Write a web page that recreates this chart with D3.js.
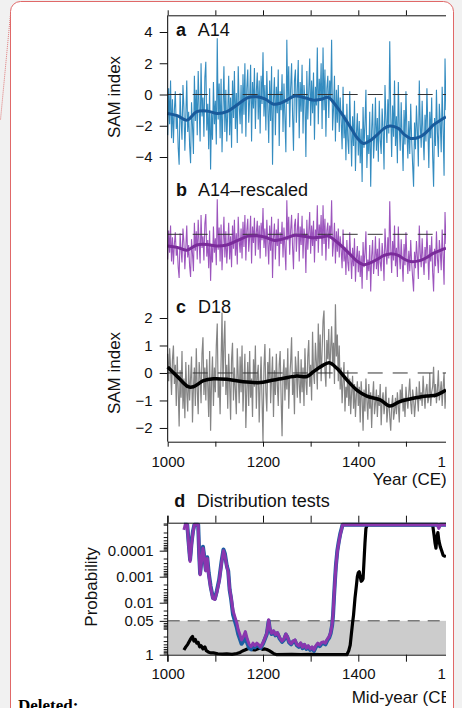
<!DOCTYPE html>
<html>
<head>
<meta charset="utf-8">
<script src="https://cdn.jsdelivr.net/npm/d3@7"></script>
<style>
  body { margin: 0; background: #f1f1f1; }
  svg { display: block; font-family: "Liberation Sans", Arial, sans-serif; }
</style>
</head>
<body>
<div id="fig"></div>
<script>
// ---- data ----
const rawYears = d3.range(1000, 1585, 2);

// A14 SAM index (panel a, also drawn rescaled in panel b)
const a14 = [
  -2.6, 0.4, -1.9, 0.9, -2.8, -0.3, -3.1, -1.0, 0.2, -2.2, -1.3, -3.4, -4.5, 0.1, -1.6, -2.9, 0.6, -0.8, -3.6, -1.4,
  0.9, -2.4, -1.1, -3.3, -4.4, -0.5, -2.0, -3.8, 1.2, -1.7, 0.3, -2.6, 1.5, -0.9, -3.0, 2.0, -1.4, -0.2, -2.7, 1.1,
  2.1, -2.3, -0.6, -3.5, 0.4, -4.8, -1.2, -2.9, 0.8, -1.9, -0.4, -3.2, 3.6, -1.6, 0.7, -2.8, 1.0, -3.7, -0.9, 1.8,
  -2.4, 0.3, -3.0, -1.1, 1.2, -2.6, -0.2, -3.4, 0.9, -1.5, 1.5, -2.2, 0.1, -3.1, 1.8, -0.7, -1.9, 0.6, -2.5, 1.3,
  -1.3, 2.0, -2.7, 0.4, 1.6, -1.8, -0.3, 1.9, -3.0, 0.8, -0.9, 1.7, -2.2, 0.2, 1.4, -1.6, 0.9, -2.5, 1.2, -0.6,
  2.7, -1.4, 0.6, -2.3, 1.5, -0.8, -3.1, 0.9, -1.7, 1.8, -4.5, -0.3, 1.1, -2.6, 0.5, -1.2, 1.6, -3.3, 0.2, -1.0,
  1.3, -2.4, 0.7, -1.5, -3.7, 3.5, -0.6, 1.8, -2.1, 0.4, 2.0, -1.3, -3.6, 0.9, 1.6, -1.8, 0.3, 2.2, -2.8, 0.8,
  -1.1, 1.9, -2.5, 0.6, -0.4, -4.0, 1.5, -1.6, 0.2, 2.3, -2.0, 0.9, -1.2, 1.4, -2.9, 0.5, -0.7, 3.0, -1.9, 1.0,
  -0.3, 2.0, -2.2, 3.0, -1.0, 1.6, -2.7, 0.4, 1.2, -1.5, 0.9, -0.4, 3.5, -2.3, -0.9, 1.2, -3.0, 0.3, -1.8, 0.6,
  -2.4, -0.2, -1.6, -3.5, 0.5, -2.8, -1.3, -4.2, -0.6, -2.9, -3.8, 0.2, -2.2, -4.6, -1.4, -3.3, -0.4, -4.9, -2.5, -1.2,
  -3.9, -1.7, -4.4, -2.2, -5.6, -0.8, -3.4, -1.9, 0.3, -4.7, -2.6, -3.8, -1.1, -5.9, -2.3, -0.6, -4.1, -2.8, -0.2, -3.6,
  -1.5, -4.3, -0.4, -2.9, -3.8, -0.9, -2.2, -4.8, 0.6, -1.6, -3.1, -0.3, -2.5, 3.4, -1.2, -4.0, -0.7, -2.7, 0.9, -3.3,
  -1.4, -4.4, 0.8, -2.1, -3.6, -0.5, -2.8, -4.9, -1.0, -3.2, 0.2, -2.4, -4.1, -1.7, -3.8, -0.6, -2.9, -4.5, -5.9, -1.8,
  -3.5, -0.7, -2.3, -4.6, 0.9, -1.9, -3.4, -0.4, -2.6, -4.2, -1.3, -3.0, 0.4, -2.2, -4.7, -1.1, -2.8, -0.2, -3.9, -5.9,
  -1.5, -3.3, 0.3, -2.4, -4.0, -0.6, -1.8, -3.7, 0.5, -2.2, -5.2, 2.3, -1.0
];

// D18 SAM index (panel c)
const d18 = [
  0.7, -0.3, 0.9, 0.2, -0.8, 0.5, 1.0, -0.4, 0.3, -1.2, 0.6, -0.6, -1.95, 0.1, -0.9, 0.8, -1.3, -0.2, -1.65, 0.4,
  -0.7, -1.4, 0.3, -1.0, -0.2, 0.6, -1.8, -0.5, 0.2, -1.2, 0.9, -0.6, -1.5, 0.4, -0.1, -1.1, 0.7, 1.3, -0.8, 0.2,
  -1.0, 0.5, -0.4, -1.6, 0.8, -2.1, -0.3, 0.6, -1.2, 0.2, -0.7, 1.0, 1.8, -0.9, -0.2, -1.5, 0.4, 2.2, -0.5, 1.1,
  1.9, -0.8, 0.3, -1.3, 0.7, -0.4, -1.7, 0.5, 1.1, -1.0, 0.2, -0.6, -1.5, 0.9, -0.1, -1.1, 0.6, -0.7, 1.0, -1.4,
  -0.3, 0.7, -2.0, -0.6, 0.4, -1.2, 0.8, -0.9, -0.2, -1.6, 0.5, -0.5, 1.0, -1.3, -0.1, 0.3, -1.8, -0.4, 0.6, -1.0,
  -2.5, 0.2, 1.05, -0.7, -1.4, 0.4, -0.3, 0.9, -1.1, -0.2, 0.6, -1.6, 0.1, -0.8, 0.7, -0.4, -1.2, 0.3, 0.8, -0.9,
  -2.3, -0.1, 0.5, -1.0, 0.2, -0.6, 0.9, -1.3, -0.2, 0.4, 1.3, -0.8, -0.1, -1.5, 0.6, 0.1, -0.9, 0.8, -0.4, -1.1,
  0.5, -0.7, 0.2, -1.2, 0.9, -0.3, -0.8, 0.6, 1.2, -0.5, 0.3, -1.0, 1.5, 0.0, -0.4, 1.1, 0.4, -0.6, 1.8, 0.2,
  1.4, -0.3, 0.8, 1.9, 2.27, 0.1, -0.5, 1.2, 0.5, 1.6, -0.2, 0.9, 1.7, 0.3, 1.1, -0.4, 2.5, 0.6, 1.4, -0.3,
  1.0, -0.6, 0.2, -1.1, -0.3, 0.4, -1.4, -0.5, -0.9, 0.1, -1.2, -0.2, -1.5, -0.7, -0.1, -1.3, -0.4, -1.6, -0.8, -0.3,
  -1.2, -0.5, -1.8, -0.3, -0.9, -2.1, -0.6, -1.4, -0.2, -1.0, -1.7, -0.4, -1.3, -0.7, -2.0, -0.9, -0.3, -1.5, -1.1, -0.6,
  -1.6, -0.8, -1.2, -0.4, -1.9, -1.0, -0.7, -1.5, -1.1, -0.5, -1.8, -1.3, -0.9, -1.6, -2.1, -1.2, -0.8, -1.7, -1.4, -0.9,
  -1.5, -0.7, -1.2, -1.8, -0.6, -1.1, -0.4, -1.4, -0.9, -1.6, -0.5, -1.0, -1.3, -0.7, -0.2, -1.1, -1.5, -0.6, -0.9, -1.6,
  -1.1, -0.5, -0.9, -1.4, -0.3, -1.0, -0.7, -1.2, -0.1, -0.8, -1.3, -0.6, -0.4, -1.1, -0.9, 0.0, -1.2, -0.7, -0.5, 0.23,
  -0.9, -0.4, -1.1, -0.6, 0.1, -1.0, -0.7, -0.3, -1.2, -0.5, 0.0, -1.3, -0.6
];

// smoothed curves
const smoothYearsA = [1000,1020,1040,1061,1082,1103,1124,1145,1169,1187,1205,1222,1237,1250,1267,1292,1306,1322,1337,1355,1369,1383,1397,1411,1425,1439,1453,1466,1484,1496,1510,1529,1545,1557,1570,1584];
const smoothA = [-1.21,-1.35,-1.64,-1.1,-1.05,-1.21,-1.1,-0.68,-0.19,-0.15,-0.3,-0.62,-0.55,-0.36,-0.1,-0.25,-0.36,-0.3,-0.19,-0.79,-1.4,-2.07,-2.75,-3.13,-2.95,-2.6,-2.2,-2.02,-2.17,-2.55,-2.81,-2.71,-2.35,-1.96,-1.7,-1.43];
const smoothYearsC = [1000,1022,1043,1054,1075,1096,1124,1159,1194,1215,1243,1271,1292,1306,1323,1339,1355,1376,1397,1418,1446,1466,1487,1515,1544,1564,1584];
const smoothC = [0.22,-0.16,-0.5,-0.5,-0.28,-0.21,-0.23,-0.32,-0.35,-0.28,-0.19,-0.11,-0.13,0.05,0.25,0.37,0.17,-0.25,-0.62,-0.84,-0.98,-1.2,-1.04,-0.92,-0.84,-0.8,-0.62];

// panel d: distribution test probabilities (mid-year of window)
const probYears = [1034,1037,1041,1044,1047,1050,1053,1056,1064,1066,1068,1071,1074,1077,1080,1083,1086,1090,1095,1099,
  1103,1108,1113,1117,1120,1124,1127,1130,1133,1137,1141,1145,1148,1152,1155,1159,1163,1167,1171,1175,
  1179,1183,1187,1191,1195,1200,1204,1208,1212,1214,1218,1222,1226,1230,1235,1240,1244,1248,1251,1255,
  1259,1263,1267,1271,1275,1279,1283,1287,1291,1295,1299,1303,1307,1311,1315,1319,1323,1327,1331,1335,
  1339,1342,1345,1347,1349,1351,1353,1356,1359,1362,1365,1367,1566,1569,1572,1584];
const probA14 = [1e-5,1e-5,1e-5,5e-5,2.2e-4,5e-5,1.8e-5,1e-5,1e-5,1.3e-4,
  7.5e-4,2.2e-4,7e-5,1.8e-4,5.5e-4,1.8e-4,7e-4,2.3e-3,6.5e-3,7e-3,
  3.6e-3,1.3e-3,2.6e-4,9e-5,1.3e-4,3.8e-4,6e-4,3.2e-3,7e-3,0.028,
  0.05,0.09,0.16,0.26,0.38,0.3,0.2,0.36,0.55,0.62,
  0.46,0.52,0.42,0.46,0.55,0.38,0.25,0.16,0.05,0.1,
  0.16,0.13,0.18,0.15,0.24,0.32,0.27,0.17,0.21,0.34,
  0.4,0.32,0.29,0.43,0.5,0.38,0.56,0.43,0.6,0.5,
  0.65,0.55,0.72,0.5,0.4,0.47,0.38,0.36,0.4,0.28,
  0.22,0.15,0.075,0.03,6e-3,1.4e-3,3.8e-4,1e-4,4.5e-5,2.3e-5,
  1.4e-5,1e-5,1e-5,1.2e-5,1e-5,1e-5];
const probRescaled = [1.6e-5,1e-5,1e-5,6e-5,2.6e-4,6e-5,2e-5,1e-5,1e-5,1.5e-4,
  8.5e-4,2.5e-4,8e-5,2e-4,6e-4,2e-4,8e-4,2.5e-3,7e-3,7.5e-3,
  4e-3,1.5e-3,3e-4,1e-4,1.5e-4,4e-4,6.5e-4,3e-3,6e-3,0.02,
  0.035,0.06,0.11,0.18,0.27,0.2,0.13,0.25,0.4,0.49,
  0.36,0.45,0.36,0.42,0.5,0.35,0.23,0.15,0.045,0.09,
  0.15,0.12,0.17,0.14,0.22,0.3,0.25,0.16,0.2,0.32,
  0.38,0.3,0.27,0.4,0.46,0.35,0.52,0.4,0.56,0.45,
  0.6,0.5,0.66,0.45,0.36,0.42,0.34,0.32,0.36,0.25,
  0.2,0.14,0.07,0.03,6e-3,1.5e-3,4e-4,1.1e-4,5e-5,2.5e-5,
  1.5e-5,1e-5,1e-5,1.4e-5,1e-5,1e-5];
const probYearsD18 = [1034,1038,1042,1047,1050,1052,1055,1058,1061,1064,
  1067,1070,1074,1078,1081,1085,1090,1096,1105,1115,
  1124,1135,1145,1152,1157,1162,1167,1173,1178,1183,
  1188,1194,1199,1204,1208,1213,1218,1223,1229,1260,
  1280,1300,1320,1376,1380,1383,1386,1388,1390,1393,
  1396,1398,1400,1402,1404,1406,1408,1410,1412,1414,
  1416,1419,1556,1559,1561,1563,1565,1567,1569,1572,
  1575,1578,1581,1584];
const probD18 = [0.66,0.5,0.4,0.27,0.22,0.2,0.3,0.26,0.36,0.34,
  0.5,0.45,0.6,0.5,0.7,0.78,0.85,0.85,0.92,0.95,
  0.93,0.97,0.9,0.82,0.72,0.66,0.6,0.56,0.64,0.66,
  0.6,0.56,0.62,0.6,0.63,0.7,0.8,0.92,1,0.97,
  1,0.98,1,1,0.7,0.43,0.13,0.06,0.03,6.8e-3,
  2.2e-3,1e-3,7e-4,6.5e-4,1e-3,1.5e-3,1.4e-3,1.2e-3,2.5e-4,5e-5,
  1.4e-5,1e-5,1e-5,2.5e-5,5e-5,8e-5,3e-5,2e-5,4e-5,7e-5,
  1e-4,1.5e-4,1.6e-4,1.7e-4];

// ticks
const yearTicks = [1000, 1100, 1200, 1300, 1400, 1500, 1600];
const yearLabels = [1000, 1200, 1400, 1600];
const samTicksA = [-4, -2, 0, 2, 4];
const samTicksC = [-2, -1, 0, 1, 2];
const probTicks = [0.0001, 0.001, 0.01, 0.05, 1];
const probLabels = ["0.0001", "0.001", "0.01", "0.05", "1"];

// ---- drawing ----
const width = 462, height = 708;
const svg = d3.select("#fig").append("svg")
    .attr("width", width)
    .attr("height", height);

// document background, comment box
svg.append("rect").attr("width", width).attr("height", height).attr("fill", "#f1f1f1");
svg.append("rect")
    .attr("x", 10.5).attr("y", 1.5)
    .attr("width", 443).attr("height", 760)
    .attr("rx", 10)
    .attr("fill", "#fff")
    .attr("stroke", "#e06868");
svg.append("line")
    .attr("x1", 10.5).attr("y1", 14)
    .attr("x2", 0.5).attr("y2", 120)
    .attr("stroke", "#e07878")
    .attr("stroke-dasharray", "1,1");
svg.append("text")
    .attr("x", 18).attr("y", 711)
    .style("font-family", "'Liberation Serif', serif")
    .style("font-weight", "bold")
    .style("font-size", "17px")
    .text("Deleted:");

svg.append("clipPath").attr("id", "clip")
    .append("rect").attr("width", 446).attr("height", height);
const g = svg.append("g").attr("clip-path", "url(#clip)");

const x = d3.scaleLinear().domain([1000, 1600]).range([167.7, 453.6]);
const yA = d3.scaleLinear().domain([-4, 4]).range([157, 32]);
const yB = d3.scaleLinear().domain([-4, 4]).range([273.1, 195.5]);
const yC = d3.scaleLinear().domain([-2.5, 2]).range([441.7, 318]);
const yP = d3.scaleLog().domain([8.4e-6, 1]).range([522.7, 654.7]);

const rawLine = (yScale, vals) => d3.line()
    .x((d, i) => x(rawYears[i]))
    .y(d => yScale(d))(vals);
const smoothLine = (yScale, years, vals) => d3.line()
    .curve(d3.curveCatmullRom.alpha(0.5))
    .x((d, i) => x(years[i]))
    .y(d => yScale(d))(vals);

function zeroLine(yPos) {
    g.append("line")
        .attr("x1", x(1000)).attr("x2", x(1600))
        .attr("y1", yPos).attr("y2", yPos)
        .attr("stroke", "#333")
        .attr("stroke-width", 1)
        .attr("stroke-dasharray", "15,10");
}

// panel a
g.append("path").attr("d", rawLine(yA, a14))
    .attr("fill", "none").attr("stroke", "#348cc0").attr("stroke-width", 1.1);
zeroLine(yA(0));
g.append("path").attr("d", smoothLine(yA, smoothYearsA, smoothA))
    .attr("fill", "none").attr("stroke", "#195b9c").attr("stroke-width", 3);

// panel b
g.append("path").attr("d", rawLine(yB, a14))
    .attr("fill", "none").attr("stroke", "#9c55bd").attr("stroke-width", 1.1);
zeroLine(yB(0));
g.append("path").attr("d", smoothLine(yB, smoothYearsA, smoothA))
    .attr("fill", "none").attr("stroke", "#7a2b9a").attr("stroke-width", 3);

// panel c
g.append("path").attr("d", rawLine(yC, d18))
    .attr("fill", "none").attr("stroke", "#858585").attr("stroke-width", 1.2);
zeroLine(yC(0));
g.append("path").attr("d", smoothLine(yC, smoothYearsC, smoothC))
    .attr("fill", "none").attr("stroke", "#000").attr("stroke-width", 3.5);

// axes a-c
g.append("g").attr("transform", "translate(0,15.3)")
    .call(d3.axisTop(x).tickValues(yearTicks).tickSize(5).tickSizeOuter(0).tickFormat(""));
g.append("g").attr("transform", "translate(0,441.7)")
    .call(d3.axisBottom(x).tickValues(yearTicks).tickSize(5).tickSizeOuter(0).tickPadding(10)
        .tickFormat(d => yearLabels.includes(d) ? String(d) : ""));
g.append("line")
    .attr("x1", x(1000)).attr("x2", x(1000))
    .attr("y1", 15.3).attr("y2", 441.7)
    .attr("stroke", "#000");
const leftA = g.append("g").attr("transform", `translate(${x(1000)},0)`)
    .call(d3.axisLeft(yA).tickValues(samTicksA).tickSize(8).tickPadding(7).tickFormat(d3.format("d")));
const leftC = g.append("g").attr("transform", `translate(${x(1000)},0)`)
    .call(d3.axisLeft(yC).tickValues(samTicksC).tickSize(8).tickPadding(7).tickFormat(d3.format("d")));
[leftA, leftC].forEach(ax => ax.select(".domain").remove());

// panel d
g.append("rect")
    .attr("x", x(1000)).attr("width", x(1600) - x(1000))
    .attr("y", yP(0.05)).attr("height", yP(1) - yP(0.05))
    .attr("fill", "#cccccc");
g.append("line")
    .attr("x1", x(1000)).attr("x2", x(1600))
    .attr("y1", yP(0.05)).attr("y2", yP(0.05))
    .attr("stroke", "#7a7a7a").attr("stroke-width", 1.5)
    .attr("stroke-dasharray", "12,8");

const probLine = (years, vals) => d3.line()
    .x((d, i) => x(years[i]))
    .y(d => yP(d))(vals);
g.append("path").attr("d", probLine(probYearsD18, probD18))
    .attr("fill", "none").attr("stroke", "#000").attr("stroke-width", 3.2)
    .attr("stroke-linejoin", "round");
g.append("path").attr("d", probLine(probYears, probA14))
    .attr("fill", "none").attr("stroke", "#1c5ea3").attr("stroke-width", 4)
    .attr("stroke-linejoin", "round");
g.append("path").attr("d", probLine(probYears, probRescaled))
    .attr("fill", "none").attr("stroke", "#8a36ae").attr("stroke-width", 3)
    .attr("stroke-linejoin", "round");

g.append("g").attr("transform", "translate(0,522.7)")
    .call(d3.axisTop(x).tickValues(yearTicks).tickSize(7).tickSizeOuter(0).tickFormat(""));
g.append("g").attr("transform", "translate(0,654.7)")
    .call(d3.axisBottom(x).tickValues(yearTicks).tickSize(7).tickSizeOuter(0).tickPadding(6.5)
        .tickFormat(d => yearLabels.includes(d) ? String(d) : ""));
const minor = yP.ticks().filter(t => !probTicks.includes(t));
g.append("g").attr("transform", `translate(${x(1000)},0)`)
    .call(d3.axisLeft(yP).tickValues(minor).tickSize(4).tickFormat(""))
    .select(".domain").remove();
g.append("g").attr("transform", `translate(${x(1000)},0)`)
    .call(d3.axisLeft(yP).tickValues(probTicks).tickSize(8).tickPadding(6)
        .tickFormat((d, i) => probLabels[i]))
    .select(".domain").remove();
g.append("line")
    .attr("x1", x(1000)).attr("x2", x(1000))
    .attr("y1", 515.7).attr("y2", 661.7)
    .attr("stroke", "#000");

g.selectAll(".tick text").style("font-size", "15px").attr("fill", "#111");
g.selectAll(".tick line, .domain").attr("stroke", "#111");

// titles and axis labels
function panelLabel(letter, name, lx, nx, yPos) {
    const t = g.append("text").attr("y", yPos).style("font-size", "18px").attr("fill", "#111");
    t.append("tspan").attr("x", lx).style("font-weight", "bold").text(letter);
    t.append("tspan").attr("x", nx).text(name);
}
panelLabel("a", "A14", 176, 197.7, 35.5);
panelLabel("b", "A14–rescaled", 176, 198, 196);
panelLabel("c", "D18", 176, 198, 312.7);
panelLabel("d", "Distribution tests", 174.3, 196.7, 507.3);

function yTitle(label, cx, cy) {
    g.append("text")
        .attr("transform", `translate(${cx},${cy}) rotate(-90)`)
        .attr("text-anchor", "middle")
        .style("font-size", "17px").attr("fill", "#111")
        .text(label);
}
yTitle("SAM index", 120, 97);
yTitle("SAM index", 120, 373);
yTitle("Probability", 97, 587);

g.append("text").attr("x", 372.7).attr("y", 485)
    .style("font-size", "17px").attr("fill", "#111").text("Year (CE)");
g.append("text").attr("x", 351.7).attr("y", 702.5)
    .style("font-size", "17px").attr("fill", "#111").text("Mid-year (CE)");
</script>
</body>
</html>
